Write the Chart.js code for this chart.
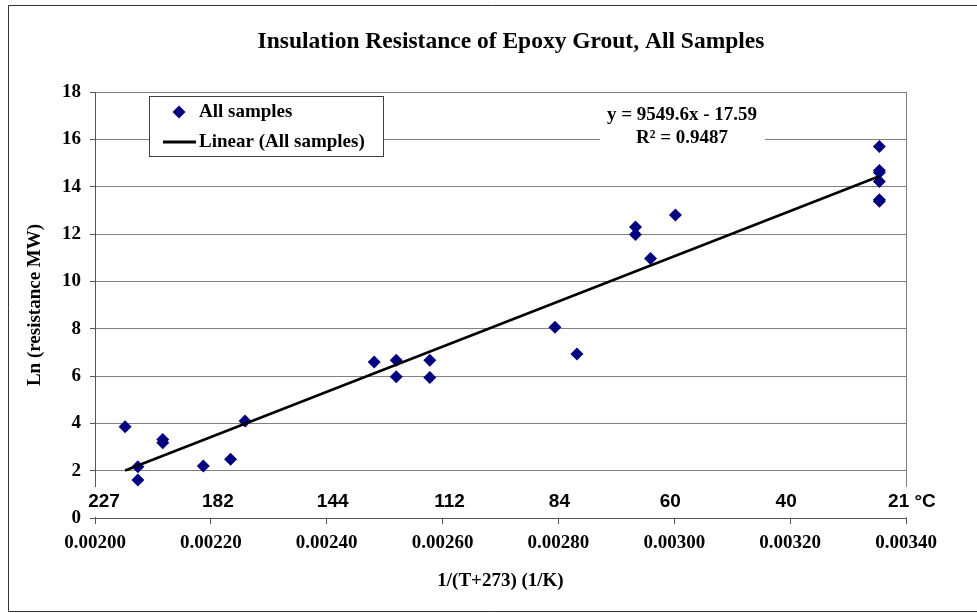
<!DOCTYPE html>
<html>
<head>
<meta charset="utf-8">
<title>Insulation Resistance of Epoxy Grout, All Samples</title>
<script src="https://cdn.jsdelivr.net/npm/chart.js@4.4.0/dist/chart.umd.min.js"></script>
<style>
    html, body { margin: 0; padding: 0; background: #fff; }
    #chart { display: block; }
</style>
</head>
<body>
<canvas id="chart" width="977" height="613"></canvas>
<script>
// 1/(T+273) of each sample, in 1/K
const invTemp = [
    0.002052, 0.002074, 0.002074, 0.002117, 0.002117, 0.002187, 0.002234, 0.002259,
    0.002482, 0.002520, 0.002520, 0.002578, 0.002578, 0.002794, 0.002832,
    0.002933, 0.002933, 0.002959, 0.003002,
    0.003354, 0.003354, 0.003354, 0.003354, 0.003354, 0.003354
];
// Ln of insulation resistance (MW)
const lnResistance = [
    3.86, 2.17, 1.61, 3.32, 3.18, 2.20, 2.48, 4.10,
    6.59, 6.67, 5.97, 6.67, 5.94, 8.06, 6.93,
    12.30, 11.98, 10.97, 12.80,
    15.70, 14.68, 14.60, 14.22, 13.45, 13.38
];

// Linear trend reported on the chart
const fitSlope = 9549.6;
const fitIntercept = -17.59;
const fitText = ['y = 9549.6x - 17.59', 'R\u00b2 = 0.9487'];

// Temperature labels along the bottom and where they sit (1/K)
const tempLabels = ['227', '182', '144', '112', '84', '60', '40', '21 \u00b0C'];
const tempLabelPos = [0.0020155, 0.0022121, 0.0024103, 0.0026121, 0.0028017, 0.0029931, 0.0031931, 0.0034103];

// Axis ranges
const xMin = 0.00200, xMax = 0.00340, xStep = 0.00020;
const yMin = 0, yMax = 18, yStep = 2;

const chartTitle = 'Insulation Resistance of Epoxy Grout, All Samples';
const serif = '"Liberation Serif", "Times New Roman", serif';
const sans = '"Liberation Sans", Arial, sans-serif';
const navy = '#000080';

document.addEventListener('DOMContentLoaded', () => {
    const points = invTemp.map((v, i) => ({ x: v, y: lnResistance[i] }));
    const x0 = Math.min(...invTemp);
    const x1 = Math.max(...invTemp);
    const trend = [
        { x: x0, y: fitSlope * x0 + fitIntercept },
        { x: x1, y: fitSlope * x1 + fitIntercept }
    ];

    // frame, title, temperature labels, equation and legend
    const extras = {
        id: 'extras',
        beforeDraw(chart) {
            const c = chart.ctx;
            c.save();
            c.fillStyle = '#fff';
            c.fillRect(0, 0, chart.width, chart.height);
            c.strokeStyle = '#333';
            c.lineWidth = 1;
            c.beginPath();
            c.moveTo(chart.width, 5.5);
            c.lineTo(8.5, 5.5);
            c.lineTo(8.5, 611.5);
            c.lineTo(chart.width, 611.5);
            c.stroke();

            // title sits a bit right of the canvas centre, as in the original sheet
            c.font = 'bold 23.5px ' + serif;
            c.fillStyle = '#000';
            c.textAlign = 'center';
            c.textBaseline = 'middle';
            c.fillText(chartTitle, 511, 42);
            c.restore();
        },
        afterDraw(chart) {
            const c = chart.ctx;
            const area = chart.chartArea;
            const xs = chart.scales.x;
            c.save();

            // temperature labels, on white boxes
            c.font = 'bold 19px ' + sans;
            c.textAlign = 'center';
            c.textBaseline = 'middle';
            tempLabels.forEach((t, i) => {
                const px = xs.getPixelForValue(tempLabelPos[i]);
                const w = c.measureText(t).width + 6;
                c.fillStyle = '#fff';
                c.fillRect(px - w / 2, area.bottom - 31, w, 30);
                c.fillStyle = '#000';
                c.fillText(t, px, area.bottom - 16);
            });

            // trend equation
            c.font = 'bold 19px ' + serif;
            c.fillStyle = '#fff';
            c.fillRect(600, 99, 165, 50);
            c.fillStyle = '#000';
            c.fillText(fitText[0], 682, 115);
            c.fillText(fitText[1], 682, 138);

            // legend
            const ds = chart.data.datasets;
            c.fillStyle = '#fff';
            c.fillRect(149.5, 96.5, 234, 60);
            c.strokeStyle = '#404040';
            c.lineWidth = 1;
            c.strokeRect(149.5, 96.5, 234, 60);

            c.fillStyle = ds[0].backgroundColor;
            c.beginPath();
            c.moveTo(179 - 6.5, 112);
            c.lineTo(179, 112 - 6.5);
            c.lineTo(179 + 6.5, 112);
            c.lineTo(179, 112 + 6.5);
            c.closePath();
            c.fill();

            c.strokeStyle = ds[1].borderColor;
            c.lineWidth = 3;
            c.beginPath();
            c.moveTo(163, 142);
            c.lineTo(196, 142);
            c.stroke();

            c.fillStyle = '#000';
            c.textAlign = 'left';
            c.fillText(ds[0].label, 199, 112);
            c.fillText(ds[1].label, 199, 142);
            c.restore();
        }
    };

    const ctx = document.getElementById('chart').getContext('2d');
    new Chart(ctx, {
        type: 'scatter',
        data: {
            datasets: [
                {
                    label: 'All samples',
                    data: points,
                    pointStyle: 'rectRot',
                    pointRadius: 6.5,
                    backgroundColor: navy,
                    borderColor: navy,
                    borderWidth: 0,
                    order: 1
                },
                {
                    type: 'line',
                    label: 'Linear (All samples)',
                    data: trend,
                    borderColor: '#000',
                    borderWidth: 2.5,
                    pointRadius: 0,
                    fill: false,
                    order: 0
                }
            ]
        },
        options: {
            responsive: false,
            animation: false,
            layout: {
                padding: { left: 0, right: 71, top: 92, bottom: 0 }
            },
            scales: {
                x: {
                    type: 'linear',
                    position: 'bottom',
                    min: xMin,
                    max: xMax,
                    afterFit: s => { s.height = 95; },
                    ticks: {
                        stepSize: xStep,
                        autoSkip: false,
                        maxRotation: 0,
                        padding: 8,
                        color: '#000',
                        font: { family: serif, size: 19, weight: 'bold' },
                        callback: v => Number(v).toFixed(5)
                    },
                    grid: {
                        color: c => (c.tick && Math.abs(c.tick.value - xMax) < 1e-9) ? '#808080' : 'rgba(0,0,0,0)',
                        tickColor: '#555',
                        tickLength: 6
                    },
                    border: { color: '#555' },
                    title: {
                        display: true,
                        text: '1/(T+273) (1/K)',
                        color: '#000',
                        font: { family: serif, size: 19, weight: 'bold' },
                        padding: { top: 0, bottom: 21 }
                    }
                },
                y: {
                    min: yMin,
                    max: yMax,
                    afterFit: s => { s.width = 95; },
                    ticks: {
                        stepSize: yStep,
                        padding: 9,
                        color: '#000',
                        font: { family: serif, size: 19, weight: 'bold' }
                    },
                    grid: {
                        color: '#808080',
                        tickColor: '#555',
                        tickLength: 5
                    },
                    border: { color: '#555' },
                    title: {
                        display: true,
                        text: 'Ln (resistance MW)',
                        color: '#000',
                        font: { family: serif, size: 19, weight: 'bold' },
                        padding: { top: 24, bottom: 0 }
                    }
                }
            },
            plugins: {
                legend: { display: false },
                tooltip: { enabled: false },
                title: { display: false }
            }
        },
        plugins: [extras]
    });
});
</script>
</body>
</html>
